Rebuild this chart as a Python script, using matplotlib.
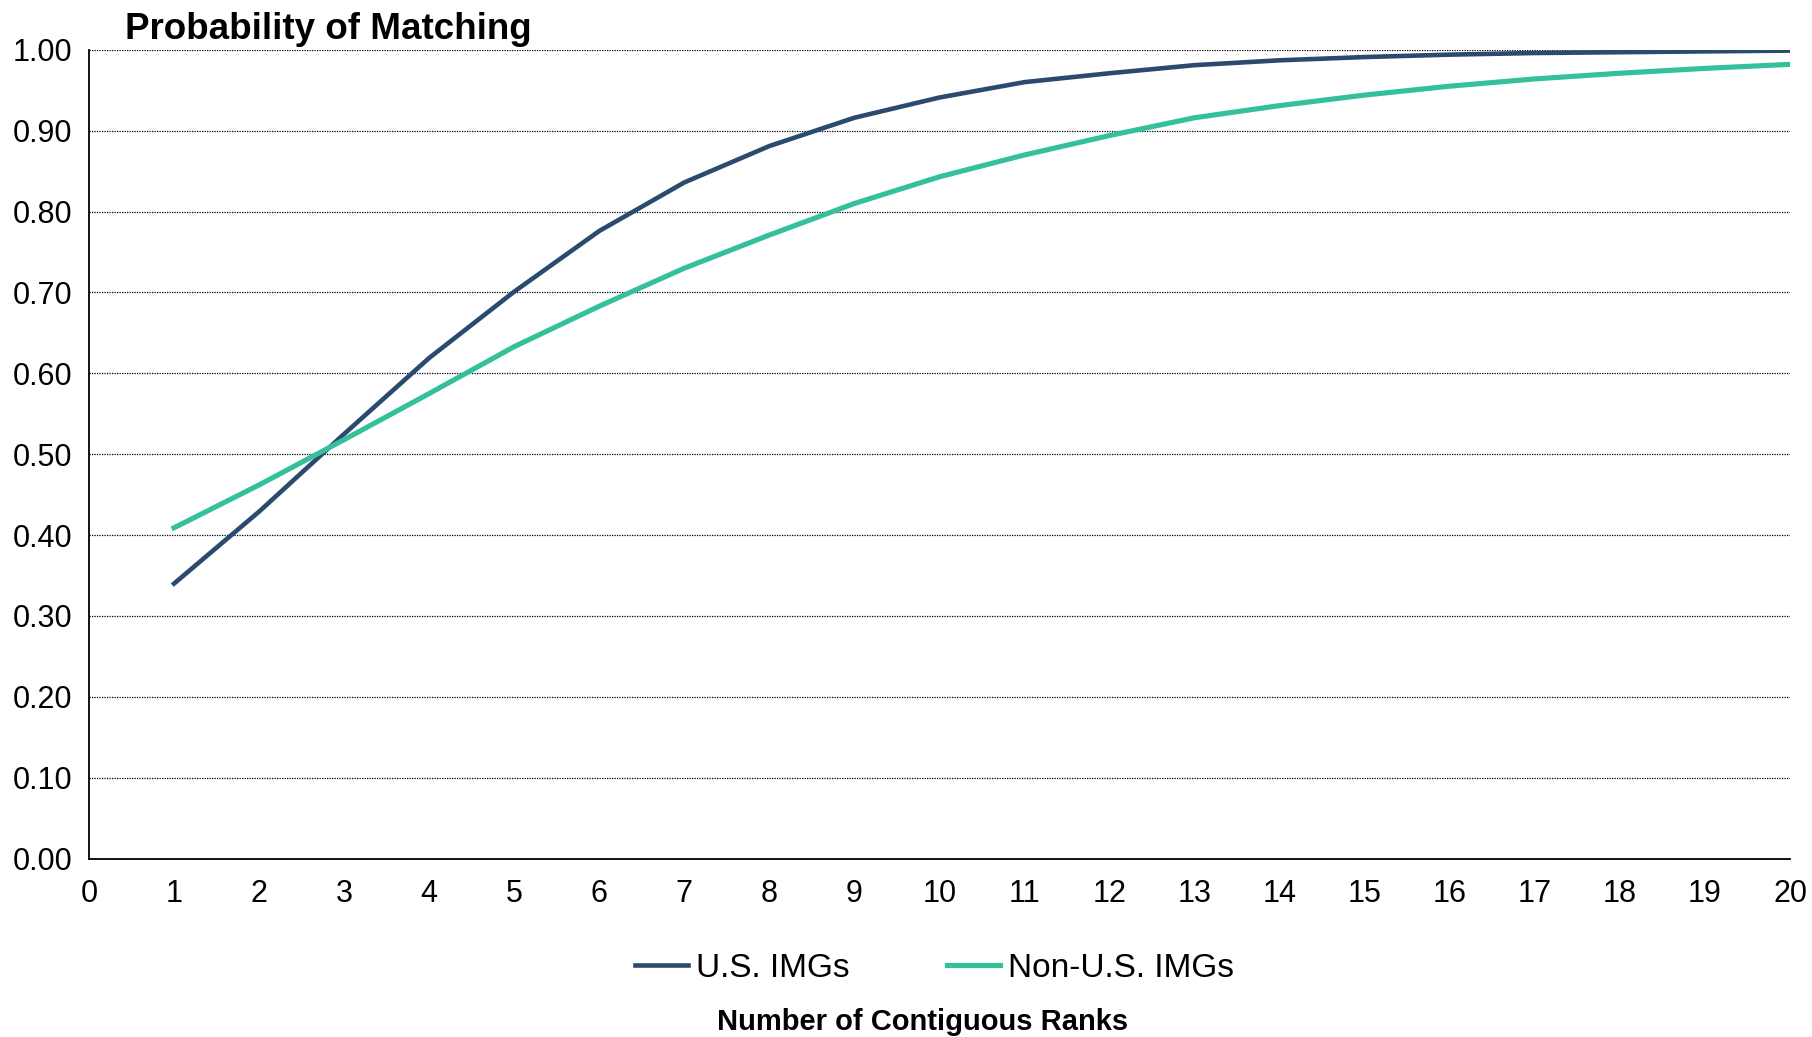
import numpy as np
import matplotlib.pyplot as plt

# number of contiguous ranks
ranks = list(range(1, 21))
us_imgs = [0.340, 0.429, 0.525, 0.619, 0.701, 0.776, 0.836, 0.881, 0.916, 0.941,
           0.960, 0.971, 0.981, 0.987, 0.991, 0.994, 0.996, 0.997, 0.998, 0.999]
non_us_imgs = [0.409, 0.462, 0.518, 0.575, 0.633, 0.683, 0.730, 0.771, 0.810, 0.843,
               0.870, 0.894, 0.916, 0.931, 0.944, 0.955, 0.964, 0.971, 0.977, 0.982]

plt.rcParams['font.family'] = ['Liberation Sans', 'DejaVu Sans']

fig = plt.figure(figsize=(18.12, 10.37), dpi=100)
ax = fig.add_axes([0.0491, 0.172, 0.9388, 0.780])

ax.plot(ranks, us_imgs, color='#2B4A6F', lw=3.3, label='U.S. IMGs', zorder=3)
ax.plot(ranks, non_us_imgs, color='#33C09A', lw=3.7, label='Non-U.S. IMGs', zorder=3)

ax.set_xlim(0, 20)
ax.set_ylim(0, 1.0)
ax.set_xticks(range(0, 21))
ax.set_yticks(np.arange(0, 1.01, 0.1))
ax.set_yticklabels(['%.2f' % v for v in np.arange(0, 1.01, 0.1)])
ax.tick_params(axis='both', labelsize=22, length=0)
ax.tick_params(axis='x', pad=15)
ax.tick_params(axis='y', pad=12)

ax.yaxis.grid(True, color='black', linestyle=(0, (1, 1)), lw=0.9)
ax.set_axisbelow(True)
for side in ['top', 'right']:
    ax.spines[side].set_visible(False)
for side in ['left', 'bottom']:
    ax.spines[side].set_color('black')
    ax.spines[side].set_linewidth(1.3)

fig.text(0.069, 0.972, 'Probability of Matching', fontsize=26.5, fontweight='bold',
         ha='left', va='center')

ax.legend(loc='center', bbox_to_anchor=(0.497, -0.136), ncol=2, frameon=False,
          fontsize=24, handlelength=1.6, handletextpad=0.25, columnspacing=2.9)

fig.text(0.509, 0.014, 'Number of Contiguous Ranks', fontsize=21, fontweight='bold',
         ha='center', va='center')

fig.savefig('out.png', dpi=100)
